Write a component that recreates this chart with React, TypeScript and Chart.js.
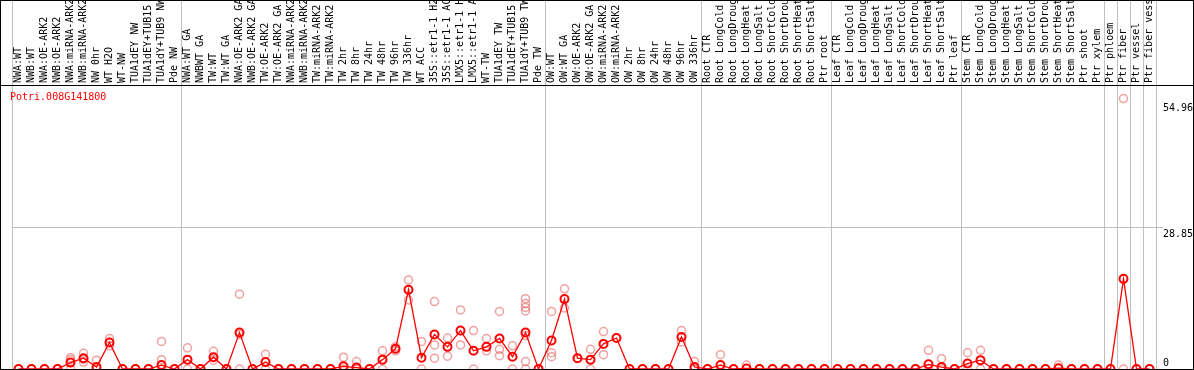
import React, { useEffect, useRef } from 'react';
import { Chart, registerables } from 'chart.js';

Chart.register(...registerables);

const geneName = 'Potri.008G141800';

const categories: string[] = [
  'NWA:WT', 'NWB:WT', 'NWA:OE-ARK2', 'NWB:OE-ARK2', 'NWA:miRNA-ARK2', 'NWB:miRNA-ARK2',
  'NW 0hr', 'WT H2O', 'WT-NW', 'TUA1dEY NW', 'TUA1dEY+TUB15 NW', 'TUA1dY+TUB9 NW', 'Pde NW',
  'NWA:WT GA', 'NWBWT GA', 'TW:WT', 'TW:WT GA', 'NWA:OE-ARK2 GA', 'NWB:OE-ARK2 GA',
  'TW:OE-ARK2', 'TW:OE-ARK2 GA', 'NWA:miRNA-ARK2 GA', 'NWB:miRNA-ARK2 GA', 'TW:miRNA-ARK2',
  'TW:miRNA-ARK2 GA', 'TW 2hr', 'TW 8hr', 'TW 24hr', 'TW 48hr', 'TW 96hr', 'TW 336hr',
  'WT ACC', '35S::etr1-1 H2O', '35S::etr1-1 ACC', 'LMX5::etr1-1 H2O', 'LMX5::etr1-1 ACC',
  'WT-TW', 'TUA1dEY TW', 'TUA1dEY+TUB15 TW', 'TUA1dY+TUB9 TW', 'Pde TW',
  'OW:WT', 'OW:WT GA', 'OW:OE-ARK2', 'OW:OE-ARK2 GA', 'OW:miRNA-ARK2', 'OW:miRNA-ARK2 GA',
  'OW 2hr', 'OW 8hr', 'OW 24hr', 'OW 48hr', 'OW 96hr', 'OW 336hr',
  'Root CTR', 'Root LongCold', 'Root LongDrought', 'Root LongHeat', 'Root LongSalt',
  'Root ShortCold', 'Root ShortDrought', 'Root ShortHeat', 'Root ShortSalt', 'Ptr root',
  'Leaf CTR', 'Leaf LongCold', 'Leaf LongDrought', 'Leaf LongHeat', 'Leaf LongSalt',
  'Leaf ShortCold', 'Leaf ShortDrought', 'Leaf ShortHeat', 'Leaf ShortSalt', 'Ptr leaf',
  'Stem CTR', 'Stem LongCold', 'Stem LongDrought', 'Stem LongHeat', 'Stem LongSalt',
  'Stem ShortCold', 'Stem ShortDrought', 'Stem ShortHeat', 'Stem ShortSalt',
  'Ptr shoot', 'Ptr xylem', 'Ptr phloem', 'Ptr fiber', 'Ptr vessel', 'Ptr fiber vessel',
];

// category indices where a new sample group begins (a divider is drawn before them)
const groupStarts: number[] = [0, 13, 41, 53, 63, 73, 84, 85, 86, 87];

const meanValues: number[] = [
  0, 0, 0, 0, 1.3, 2.2, 0.4, 5.4, 0, 0, 0, 0.8, 0,
  1.9, 0, 2.4, 0, 7.4, 0, 1.4, 0, 0, 0, 0, 0, 0.55, 0.3, 0, 1.9, 4.1, 16.1,
  2.3, 7.0, 4.5, 7.8, 3.7, 4.5, 6.2, 2.5, 7.4, 0,
  5.8, 14.2, 2.2, 1.9, 5.1, 6.3, 0, 0, 0, 0, 6.5, 0.4,
  0, 0.8, 0, 0.1, 0, 0, 0, 0, 0, 0,
  0, 0, 0, 0, 0, 0, 0, 0.95, 0.4, 0,
  1.1, 1.8, 0, 0, 0, 0, 0, 0.15, 0,
  0, 0, 0, 18.32, 0, 0,
];

const replicateValues: number[][] = [
  [0], [0], [0], [0], [2.3, 1.9, 0], [3.2, 2.0, 1.4], [1.8, 0], [6.2, 5.4, 4.7], [0], [0], [0], [5.6, 1.9, 0], [0],
  [4.3, 0], [0], [3.6, 2.4, 1.8], [0], [15.2, 7.0, 0], [0], [3.0, 0], [0], [0], [0], [0], [0],
  [2.4, 0], [1.5, 0], [0], [3.7, 0], [4.5, 3.7], [18.1, 16.1, 14.0],
  [5.6, 0], [13.7, 4.9, 2.2], [6.3, 2.6], [12.0, 4.9], [7.8, 0], [6.2, 3.7], [11.7, 4.0, 2.7],
  [4.7, 0], [14.3, 13.3, 12.5, 11.8, 6.8, 1.5, 0], [0],
  [11.7, 3.3, 2.5], [16.3, 12.4], [2.2], [4.0, 0], [7.6, 2.9], [6.3], [0], [0], [0], [0], [7.8, 5.5], [1.5, 0],
  [0], [2.9, 0], [0], [0.8], [0], [0], [0], [0], [0], [0],
  [0], [0], [0], [0], [0], [0], [0], [3.8, 0], [2.1, 0], [0],
  [3.3, 0], [3.8, 0], [0], [0], [0], [0], [0], [0.8], [0],
  [0], [0], [0], [54.96, 0], [0], [0],
];

const yTickValues: number[] = [0, 28.85, 54.96];
const yAxisMax = 57.708;

const FONT = '10px "DejaVu Sans Mono", monospace';

export default function App() {
  const canvasRef = useRef<HTMLCanvasElement | null>(null);

  useEffect(() => {
    document.body.style.margin = '0';
    const canvas = canvasRef.current;
    if (!canvas) return;

    const replicatePoints = replicateValues.flatMap((vals, i) =>
      vals.map((v) => ({ x: categories[i], y: v }))
    );

    const framePlugin = {
      id: 'frame',
      afterDraw(chart: any) {
        const { ctx, width, height, chartArea, scales } = chart;
        ctx.save();
        ctx.strokeStyle = '#000';
        ctx.lineWidth = 1;
        ctx.strokeRect(0.5, 0.5, width - 1, height - 1);
        ctx.beginPath();
        ctx.moveTo(0, Math.round(chartArea.top) + 0.5);
        ctx.lineTo(width, Math.round(chartArea.top) + 0.5);
        ctx.stroke();

        ctx.font = FONT;
        ctx.fillStyle = '#ff0000';
        ctx.textAlign = 'left';
        ctx.textBaseline = 'middle';
        ctx.fillText(geneName, 10, chartArea.top + 12);

        const y = scales.y;
        ctx.fillStyle = '#000';
        ctx.textBaseline = 'top';
        yTickValues.forEach((v) => {
          const py = y.getPixelForValue(v);
          const ty = Math.min(Math.max(py + 2, chartArea.top + 18), chartArea.bottom - 11);
          ctx.fillText(v === 0 ? '0' : v.toFixed(2), chartArea.right + 7, ty);
        });
        ctx.restore();
      },
    };

    const chart = new Chart(canvas, {
      type: 'line',
      data: {
        labels: categories,
        datasets: [
          {
            label: 'mean',
            data: meanValues,
            borderColor: '#ff0000',
            borderWidth: 1.3,
            pointRadius: 4,
            pointBorderWidth: 2,
            pointBorderColor: '#ff0000',
            pointBackgroundColor: 'rgba(255,255,255,0)',
            tension: 0,
            order: 0,
          },
          {
            label: 'replicates',
            data: replicatePoints as any,
            showLine: false,
            pointRadius: 4,
            pointBorderWidth: 1.5,
            pointBorderColor: 'rgba(232,110,110,0.65)',
            pointBackgroundColor: 'rgba(255,255,255,0)',
            order: 1,
          },
        ],
      },
      options: {
        responsive: false,
        animation: false,
        layout: { autoPadding: false, padding: { left: 12, right: 0, top: 0, bottom: 1 } },
        plugins: {
          legend: { display: false },
          tooltip: { enabled: false },
        },
        scales: {
          x: {
            type: 'category',
            position: 'top',
            offset: true,
            grid: {
              offset: true,
              lineWidth: 1,
              drawTicks: true,
              tickLength: 85,
              color: (ctx: any) =>
                ctx.type !== 'tick' || groupStarts.includes(ctx.index) ? '#c0c0c0' : 'rgba(0,0,0,0)',
            },
            border: { display: false },
            ticks: {
              autoSkip: false,
              minRotation: 90,
              maxRotation: 90,
              padding: -83,
              labelOffset: 12,
              color: '#000',
              font: { family: '"DejaVu Sans Mono", monospace', size: 10 },
            },
            afterFit: (scale: any) => {
              scale.height = 85;
            },
          },
          y: {
            position: 'right',
            min: 0,
            max: yAxisMax,
            afterBuildTicks: (scale: any) => {
              scale.ticks = yTickValues.map((v) => ({ value: v }));
            },
            grid: {
              drawTicks: true,
              tickLength: 7,
              color: (ctx: any) =>
                ctx.tick && ctx.tick.value === yTickValues[1] ? '#c0c0c0' : 'rgba(0,0,0,0)',
            },
            border: { display: false },
            ticks: { display: false },
            afterFit: (scale: any) => {
              scale.width = 38;
            },
          },
        },
      },
      plugins: [framePlugin],
    } as any);

    return () => chart.destroy();
  }, []);

  return (
    <div style={{ width: 1194, height: 370 }}>
      <canvas ref={canvasRef} width={1194} height={370} style={{ display: 'block' }} />
    </div>
  );
}
